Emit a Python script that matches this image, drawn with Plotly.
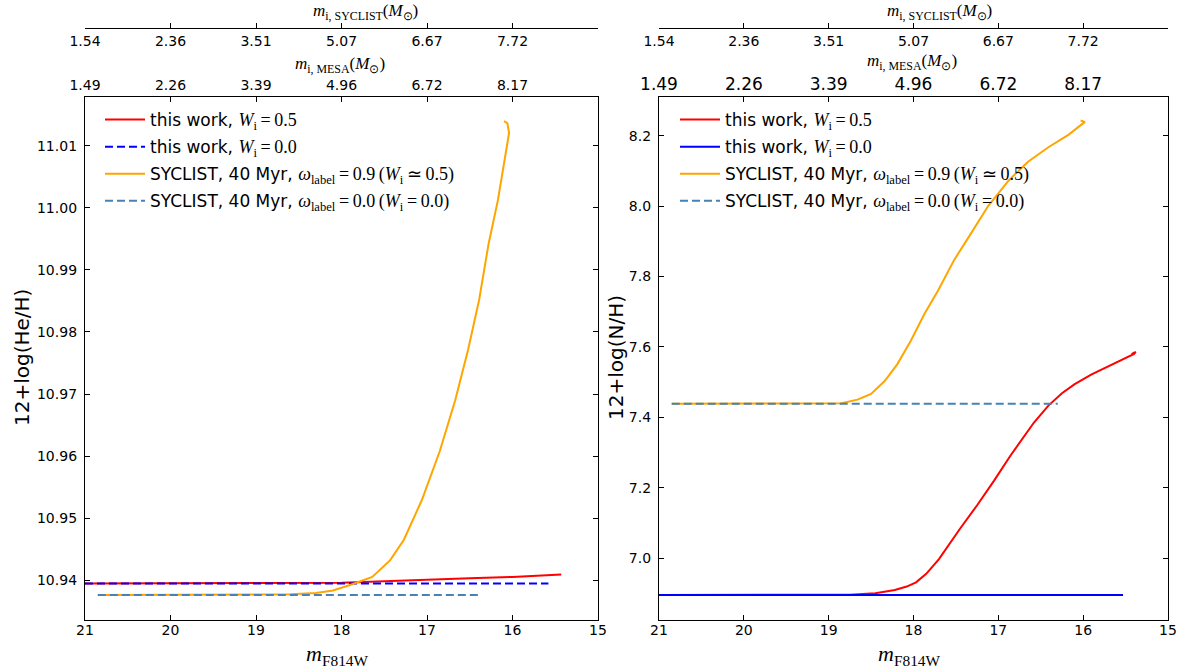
import plotly.graph_objects as go

# ---------------- helium panel: 12+log(He/H) vs m_F814W ----------------
he_w05_mag = [21.0, 20.0, 19.0, 18.5, 18.0, 17.5, 17.0, 16.5, 16.0, 15.6, 15.43]
he_w05_val = [10.93945, 10.93945, 10.93945, 10.9395, 10.93955, 10.9398, 10.9401,
              10.9403, 10.9405, 10.9407, 10.9409]

he_w00_mag = [21.0, 19.0, 17.0, 15.58]
he_w00_val = [10.93945, 10.93945, 10.93945, 10.93945]

he_syc09_mag = [20.85, 20.0, 19.0, 18.6, 18.3, 18.1, 17.9, 17.64, 17.43, 17.27, 17.06,
                16.85, 16.67, 16.52, 16.39, 16.28, 16.17, 16.08, 16.04, 16.06, 16.10]
he_syc09_val = [10.9376, 10.9376, 10.9376, 10.9377, 10.9379, 10.9383, 10.9392, 10.9405,
                10.9432, 10.9465, 10.9529, 10.9608, 10.9690, 10.9771, 10.9852, 10.9942,
                11.0013, 11.0086, 11.0121, 11.0137, 11.0140]

he_syc00_mag = [20.85, 18.0, 16.36]
he_syc00_val = [10.9376, 10.9376, 10.9376]

# ---------------- nitrogen panel: 12+log(N/H) vs m_F814W ----------------
n_w05_mag = [21.0, 20.0, 19.0, 18.75, 18.45, 18.22, 18.08, 17.97, 17.85, 17.70, 17.45, 17.25,
             17.05, 16.86, 16.58, 16.41, 16.25, 16.10, 15.90, 15.70, 15.55, 15.40, 15.38, 15.43]
n_w05_val = [6.895, 6.895, 6.895, 6.896, 6.900, 6.909, 6.919, 6.931, 6.955, 6.997, 7.084,
             7.150, 7.220, 7.290, 7.385, 7.433, 7.468, 7.494, 7.522, 7.545, 7.562, 7.580,
             7.586, 7.579]

n_w00_mag = [21.0, 19.0, 17.0, 15.53]
n_w00_val = [6.895, 6.895, 6.895, 6.895]

n_syc09_mag = [20.85, 20.0, 19.0, 18.85, 18.66, 18.5, 18.34, 18.19, 18.03, 17.87, 17.71,
               17.52, 17.32, 17.12, 16.88, 16.65, 16.41, 16.17, 15.98, 16.03]
n_syc09_val = [7.438, 7.438, 7.438, 7.440, 7.450, 7.466, 7.503, 7.551, 7.618, 7.694, 7.760,
               7.847, 7.923, 8.000, 8.072, 8.126, 8.167, 8.203, 8.239, 8.243]

n_syc00_mag = [20.85, 18.0, 16.3]
n_syc00_val = [7.438, 7.438, 7.438]

# ---------------- axis ticks ----------------
mag_ticks = [21, 20, 19, 18, 17, 16, 15]
mass_mesa_text = ["1.49", "2.26", "3.39", "4.96", "6.72", "8.17", ""]
mass_syclist_text = ["1.54", "2.36", "3.51", "5.07", "6.67", "7.72", ""]
he_ticks = [10.94, 10.95, 10.96, 10.97, 10.98, 10.99, 11.00, 11.01]
n_ticks = [7.0, 7.2, 7.4, 7.6, 7.8, 8.0, 8.2]

W, H = 1192, 670
SANS = "DejaVu Sans"
SERIF = "Liberation Serif"
ORANGE = "#FFA500"
STEEL = "#4682B4"


def serif(s):
    return f'<span style="font-family:{SERIF};font-size:18px">{s}</span>'


lab_w05 = "this work, " + serif("<i>W</i><sub>i</sub>\u2009=\u20090.5")
lab_w00 = "this work, " + serif("<i>W</i><sub>i</sub>\u2009=\u20090.0")
lab_s09 = "SYCLIST, 40 Myr, " + serif("<i>ω</i><sub>label</sub>\u2009=\u20090.9\u2009(<i>W</i><sub>i</sub>\u2009≃\u20090.5)")
lab_s00 = "SYCLIST, 40 Myr, " + serif("<i>ω</i><sub>label</sub>\u2009=\u20090.0\u2009(<i>W</i><sub>i</sub>\u2009=\u20090.0)")

fig = go.Figure()

# left panel
fig.add_trace(go.Scatter(x=he_w05_mag, y=he_w05_val, mode="lines", name=lab_w05,
                         line=dict(color="red", width=2), legend="legend", legendgroup="a"))
fig.add_trace(go.Scatter(x=he_w00_mag, y=he_w00_val, mode="lines", name=lab_w00,
                         line=dict(color="blue", width=2, dash="8px,4px"), legend="legend", legendgroup="b"))
fig.add_trace(go.Scatter(x=he_syc09_mag, y=he_syc09_val, mode="lines", name=lab_s09,
                         line=dict(color=ORANGE, width=2), legend="legend", legendgroup="c"))
fig.add_trace(go.Scatter(x=he_syc00_mag, y=he_syc00_val, mode="lines", name=lab_s00,
                         line=dict(color=STEEL, width=2, dash="8px,4px"), legend="legend", legendgroup="d"))

# right panel
fig.add_trace(go.Scatter(x=n_w05_mag, y=n_w05_val, mode="lines", name=lab_w05, xaxis="x2", yaxis="y2",
                         line=dict(color="red", width=2), legend="legend2", legendgroup="e"))
fig.add_trace(go.Scatter(x=n_w00_mag, y=n_w00_val, mode="lines", name=lab_w00, xaxis="x2", yaxis="y2",
                         line=dict(color="blue", width=2), legend="legend2", legendgroup="f"))
fig.add_trace(go.Scatter(x=n_syc09_mag, y=n_syc09_val, mode="lines", name=lab_s09, xaxis="x2", yaxis="y2",
                         line=dict(color=ORANGE, width=2), legend="legend2", legendgroup="g"))
fig.add_trace(go.Scatter(x=n_syc00_mag, y=n_syc00_val, mode="lines", name=lab_s00, xaxis="x2", yaxis="y2",
                         line=dict(color=STEEL, width=2, dash="8px,4px"), legend="legend2", legendgroup="h"))

# invisible carriers so the secondary mass axes are drawn
for ax in ["x3", "x4"]:
    fig.add_trace(go.Scatter(x=[None], y=[None], xaxis=ax, yaxis="y", showlegend=False, hoverinfo="skip"))
for ax in ["x5", "x6"]:
    fig.add_trace(go.Scatter(x=[None], y=[None], xaxis=ax, yaxis="y2", showlegend=False, hoverinfo="skip"))

left_dom = [85 / W, 598 / W]
right_dom = [659 / W, 1168 / W]
y_dom = [1 - 620 / H, 1 - 97 / H]

frame = dict(showline=True, linecolor="black", linewidth=1.3, ticks="inside", ticklen=5,
             tickwidth=1, tickcolor="black", showgrid=False, zeroline=False, fixedrange=True,
             automargin=False)
tickfont = dict(family=SANS, size=14, color="black")

bottom_x = dict(frame, range=[21, 15], tickvals=mag_ticks, ticktext=[str(t) for t in mag_ticks],
                mirror=True, tickfont=tickfont, ticklabelstandoff=-3)
fig.update_layout(
    xaxis=dict(bottom_x, domain=left_dom, anchor="y"),
    xaxis2=dict(bottom_x, domain=right_dom, anchor="y2"),
    yaxis=dict(frame, domain=y_dom, anchor="x", range=[10.93355, 11.0179], tickvals=he_ticks,
               ticktext=[f"{t:.2f}" for t in he_ticks], mirror="ticks", tickfont=tickfont,
               ticklabelstandoff=4),
    yaxis2=dict(frame, domain=y_dom, anchor="x2", range=[6.824, 8.3097], tickvals=n_ticks,
                ticktext=[f"{t:.1f}" for t in n_ticks], mirror="ticks", tickfont=tickfont,
                ticklabelstandoff=4),
    # MESA initial-mass axes on the top frame
    xaxis3=dict(frame, overlaying="x", anchor="y", side="top", range=[21, 15], tickvals=mag_ticks,
                ticktext=mass_mesa_text, tickfont=tickfont),
    xaxis5=dict(frame, overlaying="x2", anchor="y2", side="top", range=[21, 15], tickvals=mag_ticks,
                ticktext=mass_mesa_text, tickfont=dict(tickfont, size=17), ticklabelstandoff=-1),
    # SYCLIST initial-mass axes floating above
    xaxis4=dict(frame, overlaying="x", anchor="free", position=1 - 28 / H, side="bottom",
                range=[21, 15], tickvals=mag_ticks, ticktext=mass_syclist_text, tickfont=tickfont),
    xaxis6=dict(frame, overlaying="x2", anchor="free", position=1 - 28 / H, side="bottom",
                range=[21, 15], tickvals=mag_ticks, ticktext=mass_syclist_text, tickfont=tickfont),
)

leg = dict(font=dict(family=SANS, size=17, color="black"), bgcolor="rgba(0,0,0,0)",
           borderwidth=0, xanchor="left", yanchor="top", traceorder="grouped", tracegroupgap=2,
           itemwidth=40)
fig.update_layout(
    legend=dict(leg, x=100 / W, y=1 - 102 / H),
    legend2=dict(leg, x=675 / W, y=1 - 102 / H),
)

ann = []
def label(x, y, text, size, family=SERIF, angle=0):
    ann.append(dict(x=x / W, y=1 - y / H, xref="paper", yref="paper", text=text, showarrow=False,
                    font=dict(family=family, size=size, color="black"), textangle=angle,
                    xanchor="center", yanchor="middle"))

m_f814w = "<i>m</i><sub>F814W</sub>"
m_syc = "<i>m</i><sub>i, SYCLIST</sub>(<i>M</i><sub>⊙</sub>)"
m_mesa = "<i>m</i><sub>i, MESA</sub>(<i>M</i><sub>⊙</sub>)"
for x0, x1, y_mesa in [(85, 598, 65), (659, 1168, 62)]:
    c = (x0 + x1) / 2
    label(c - 4, 655, m_f814w, 22)
    label(x0 + 280, 12, m_syc, 17)
    label(c - 2, y_mesa, m_mesa, 17)
label(22, 358, "12+log(He/H)", 20, SANS, -90)
label(616, 358, "12+log(N/H)", 20, SANS, -90)

fig.update_layout(width=W, height=H, margin=dict(l=0, r=0, t=0, b=0, autoexpand=False),
                  autosize=False, paper_bgcolor="white", plot_bgcolor="white", annotations=ann,
                  showlegend=True)

fig.write_html("out.html", include_plotlyjs=True, config={"displayModeBar": False})
